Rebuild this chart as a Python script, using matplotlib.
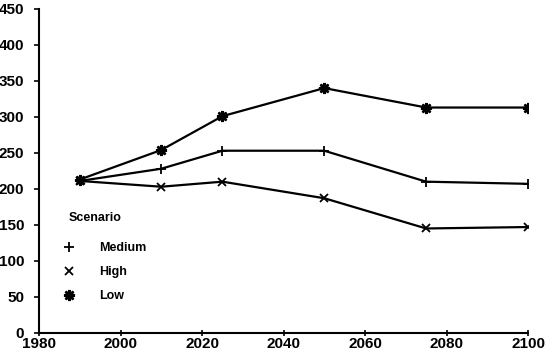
import matplotlib
matplotlib.use("Agg")
import matplotlib.pyplot as plt
import numpy as np

years = [1990, 2010, 2025, 2050, 2075, 2100]
medium = [211, 228, 253, 253, 210, 207]
high = [211, 203, 210, 187, 145, 147]
low = [213, 254, 301, 340, 313, 313]
series_names = ["Medium", "High", "Low"]
xticks = [1980, 2000, 2020, 2040, 2060, 2080, 2100]
yticks = [0, 50, 100, 150, 200, 250, 300, 350, 400, 450]

plt.rcParams['font.family'] = ['Liberation Sans', 'DejaVu Sans']
plt.rcParams['font.weight'] = 'bold'

fig = plt.figure(figsize=(5.5, 3.56), dpi=100)
ax = fig.add_axes([0.071, 0.065, 0.889, 0.91])

ax.plot(years, medium, color='black', lw=1.6, marker='+', ms=7, mew=1.3, label=series_names[0])
ax.plot(years, high, color='black', lw=1.6, marker='x', ms=6, mew=1.3, label=series_names[1])
ax.plot(years, low, color='black', lw=1.6, marker=(8, 2, 0), ms=8, mew=1.8, label=series_names[2])

ax.set_xlim(1980, 2100)
ax.set_ylim(0, 450)
ax.set_xticks(xticks)
ax.set_xticklabels([str(v) for v in xticks], fontsize=11, fontweight='bold')
ax.set_yticks(yticks)
ax.set_yticklabels([str(v) for v in yticks], fontsize=11, fontweight='bold')
ax.spines['top'].set_visible(False)
ax.spines['right'].set_visible(False)
for s in ['left', 'bottom']:
    ax.spines[s].set_linewidth(1.5)
ax.tick_params(axis='x', width=1.2, length=4, direction='inout', pad=1)
ax.tick_params(axis='y', width=1.2, length=3.6, direction='out', pad=7)

leg = ax.legend(loc='lower left', bbox_to_anchor=(0.025, 0.06), frameon=False,
                fontsize=9, handlelength=1.0, labelspacing=0.95, handletextpad=1.9)
for line in leg.get_lines():
    line.set_linestyle('none')
for t in leg.get_texts():
    t.set_fontweight('bold')

ax.text(0.061, 0.355, 'Scenario', transform=ax.transAxes, fontsize=9,
        fontweight='bold', ha='left', va='center')

fig.savefig('out.png', dpi=100)
